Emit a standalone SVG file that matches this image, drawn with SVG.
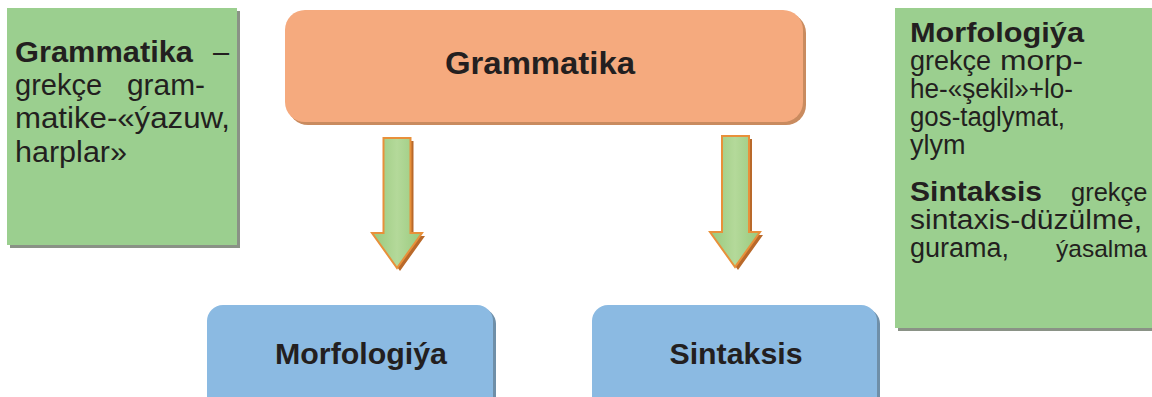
<svg xmlns="http://www.w3.org/2000/svg" width="1152" height="397" viewBox="0 0 1152 397">
<defs>
<style>
.t{font-family:"Liberation Sans",Arial,sans-serif;fill:#231f20}
.b{font-weight:bold}
.green{fill:#9bcf8f}
.gsh{fill:#8a9286}
.arrow{stroke:#e8903a;stroke-width:2;fill:url(#ag)}
.ash{fill:#b9692a}
</style>
<linearGradient id="ag" x1="0" y1="0" x2="1" y2="0">
<stop offset="0" stop-color="#98c97c"/>
<stop offset="0.5" stop-color="#b4d99a"/>
<stop offset="1" stop-color="#98c97c"/>
</linearGradient>
</defs>
<rect width="1152" height="397" fill="#ffffff"/>

<g id="note-left">
<rect x="10" y="11" width="230" height="237" class="gsh"/>
<rect x="7" y="8" width="230" height="237" class="green"/>
<text class="t b" x="15" y="62" font-size="29" textLength="178" lengthAdjust="spacingAndGlyphs">Grammatika</text>
<text class="t" x="213" y="62" font-size="29">–</text>
<text class="t" x="15" y="95" font-size="29">grekçe</text>
<text class="t" x="127" y="95" font-size="29" textLength="78" lengthAdjust="spacingAndGlyphs">gram-</text>
<text class="t" x="15" y="128" font-size="29" textLength="215" lengthAdjust="spacingAndGlyphs">matike-«ýazuw,</text>
<text class="t" x="15" y="162" font-size="29" textLength="112" lengthAdjust="spacingAndGlyphs">harplar»</text>
</g>

<g id="node-grammatika">
<rect x="288" y="13" width="518" height="112" rx="20" fill="#c98b5f"/>
<rect x="285" y="10" width="518" height="112" rx="20" fill="#f5aa7e"/>
<text class="t b" x="540" y="74" font-size="32" text-anchor="middle" textLength="190" lengthAdjust="spacingAndGlyphs">Grammatika</text>
</g>

<g id="note-right">
<rect x="898" y="11" width="260" height="320" class="gsh"/>
<rect x="895" y="8" width="262" height="320" class="green"/>
<text class="t b" x="910" y="42" font-size="28" textLength="174" lengthAdjust="spacingAndGlyphs">Morfologiýa</text>
<text class="t" x="910" y="70" font-size="27">grekçe</text>
<text class="t" x="1000" y="70" font-size="27" textLength="83" lengthAdjust="spacingAndGlyphs">morp-</text>
<text class="t" x="910" y="98" font-size="27" textLength="163" lengthAdjust="spacingAndGlyphs">he-«şekil»+lo-</text>
<text class="t" x="910" y="126" font-size="27" textLength="155" lengthAdjust="spacingAndGlyphs">gos-taglymat,</text>
<text class="t" x="910" y="154" font-size="27">ylym</text>
<text class="t b" x="910" y="201" font-size="28" textLength="132" lengthAdjust="spacingAndGlyphs">Sintaksis</text>
<text class="t" x="1071" y="201" font-size="25.5">grekçe</text>
<text class="t" x="910" y="229" font-size="27" textLength="232" lengthAdjust="spacingAndGlyphs">sintaxis-düzülme,</text>
<text class="t" x="910" y="257" font-size="27">gurama,</text>
<text class="t" x="1056" y="257" font-size="24.5">ýasalma</text>
</g>

<g id="node-morfologiya">
<rect x="210" y="308" width="286" height="110" rx="16" fill="#6f8fa8"/>
<rect x="207" y="305" width="286" height="110" rx="16" fill="#8bbae2"/>
<text class="t b" x="361" y="364" font-size="30" text-anchor="middle" textLength="172" lengthAdjust="spacingAndGlyphs">Morfologiýa</text>
</g>

<g id="node-sintaksis">
<rect x="595" y="308" width="285" height="110" rx="16" fill="#6f8fa8"/>
<rect x="592" y="305" width="285" height="110" rx="16" fill="#8bbae2"/>
<text class="t b" x="736" y="364" font-size="30" text-anchor="middle" textLength="133" lengthAdjust="spacingAndGlyphs">Sintaksis</text>
</g>

<g id="connectors">
<path class="ash" d="M386.5,141 H413.5 V236 H425 L400,271 L375,236 H386.5 Z"/>
<path class="arrow" d="M383.5,138 H410.5 V233 H422 L397,268 L372,233 H383.5 Z"/>
<path class="ash" d="M725,139 H752 V235 H763 L738,270 L713,235 H725 Z"/>
<path class="arrow" d="M722,136 H749 V232 H760 L735,267 L710,232 H722 Z"/>
</g>
</svg>
